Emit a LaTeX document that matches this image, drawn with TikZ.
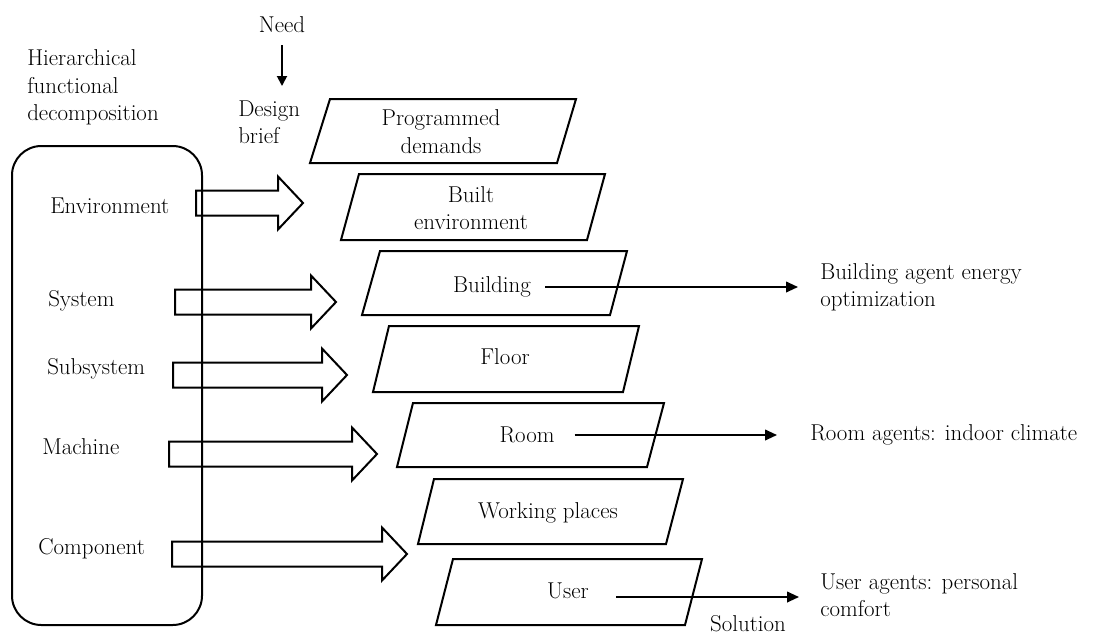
\documentclass[tikz,border=0pt]{standalone}
\usetikzlibrary{arrows.meta,calc}
\begin{document}
\begin{tikzpicture}[x=0.75pt,y=-0.75pt,
  line join=miter,
  txt/.style={inner sep=0pt, font=\fontsize{17.2}{20.5}\selectfont},
  conn/.style={line width=1.4pt,-{Triangle[length=9pt,width=8pt]}},
  shp/.style={draw, line width=1.5pt}]
\useasboundingbox (0,0) rectangle (1102,636);

% left rounded frame
\draw[shp, rounded corners=22pt] (12,146) rectangle (202,625);

% block arrows
\newcommand{\blockarr}[3]{\draw[shp] (#1,#3-12.5) -- (#2-25,#3-12.5) -- (#2-25,#3-26.5) -- (#2,#3) -- (#2-25,#3+26.5) -- (#2-25,#3+12.5) -- (#1,#3+12.5) -- cycle;}
\blockarr{196}{303}{203}
\blockarr{175}{336}{302}
\blockarr{173}{347}{375}
\blockarr{169}{377}{454}
\blockarr{172}{407}{554}

% parallelograms
\draw[shp] (330,99) -- (576,99) -- (557,163) -- (310,163) -- cycle;
\draw[shp] (359,174) -- (605,174) -- (587,240) -- (341,240) -- cycle;
\draw[shp] (380,251) -- (627,251) -- (610,315) -- (362,315) -- cycle;
\draw[shp] (389,326) -- (639,326) -- (623,392) -- (373,392) -- cycle;
\draw[shp] (413,403) -- (664,403) -- (647,467) -- (397,467) -- cycle;
\draw[shp] (434,479) -- (683,479) -- (666,544) -- (418,544) -- cycle;
\draw[shp] (453,559) -- (702,559) -- (685,625) -- (436,625) -- cycle;

% texts
\node[txt, anchor=west, align=left] (hfd) at (27,87.5) {Hierarchical\\functional\\decomposition};
\node[txt, anchor=base] (need) at (282,32) {Need};
\node[txt, anchor=west, align=left] (brief) at (238,122.5) {Design\\brief};
\coordinate (needend) at (283,86);
\draw[line width=1.4pt,-{Triangle[length=7.5pt,width=7.5pt]}] ([yshift=-9.75pt]need.south) -- (need.south |- needend);

\node[txt, anchor=base west] (env) at (50,213) {Environment};
\node[txt, anchor=base west] (sys) at (48,306) {System};
\node[txt, anchor=base west] (sub) at (47,374) {Subsystem};
\node[txt, anchor=base west] (mach) at (42,454) {Machine};
\node[txt, anchor=base west] (comp) at (38,554) {Component};

\node[txt, align=center] (prog) at (441,131.5) {Programmed\\demands};
\node[txt, align=center] (built) at (471,208) {Built\\environment};
\node[txt, anchor=base] (bldg) at (492,292) {Building};
\node[txt, anchor=base] (floor) at (505,364) {Floor};
\node[txt, anchor=base] (room) at (527,442) {Room};
\node[txt, anchor=base] (work) at (548,518) {Working places};
\node[txt, anchor=base] (user) at (568,598) {User};

\node[txt, anchor=west, align=left] (bagent) at (820,287) {Building agent energy\\optimization};
\node[txt, anchor=base west] (ragent) at (810,440) {Room agents: indoor climate};
\node[txt, anchor=west, align=left] (uagent) at (820,595) {User agents: personal\\comfort};
\node[txt, anchor=base] (sol) at (748,631) {Solution};

% connectors
\draw[conn] ($(bldg.base east)+(14,-5)$) -- ($(bagent.west |- bldg.base)+(-22,-5)$);
\draw[conn] ($(room.base east)+(20,-7)$) -- ($(ragent.base west)+(-33,-5)$);
\draw[conn] ($(user.base east)+(27,-1)$) -- ($(uagent.west |- user.base)+(-21,-1)$);
\end{tikzpicture}
\end{document}
